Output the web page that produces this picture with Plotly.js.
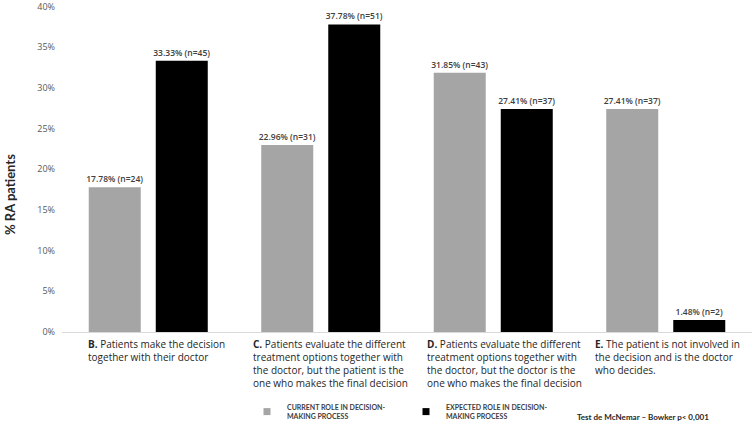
<!DOCTYPE html>
<html>
<head>
<meta charset="utf-8">
<script src="https://cdn.plot.ly/plotly-3.0.1.min.js"></script>
<style>
  html, body { margin: 0; padding: 0; background: #fff; }
  #chart { width: 755px; height: 423px; }
</style>
</head>
<body>
<div id="chart"></div>
<script>
const categories = ["B", "C", "D", "E"];
const categoryLabels = [
  "<b>B.</b> Patients make the decision<br>together with their doctor",
  "<b>C.</b> Patients evaluate the different<br>treatment options together with<br>the doctor, but the patient is the<br>one who makes the final decision",
  "<b>D.</b> Patients evaluate the different<br>treatment options together with<br>the doctor, but the doctor is the<br>one who makes the final decision",
  "<b>E.</b> The patient is not involved in<br>the decision and is the doctor<br>who decides."
];
const currentPct = [17.78, 22.96, 31.85, 27.41];
const currentN = [24, 31, 43, 37];
const expectedPct = [33.33, 37.78, 27.41, 1.48];
const expectedN = [45, 51, 37, 2];
const yTicks = [0, 5, 10, 15, 20, 25, 30, 35, 40];
const yTickText = ["0%", "5%", "10%", "15%", "20%", "25%", "30%", "35%", "40%"];
const seriesNames = [
  "CURRENT ROLE IN DECISION-<br>MAKING PROCESS",
  "EXPECTED ROLE IN DECISION-<br>MAKING PROCESS"
];
const seriesColors = ["#a5a5a5", "#000000"];
const testNote = "Test de McNemar – Bowker p< 0,001";

const font = "'Open Sans', sans-serif";
const narrow = "Lato, sans-serif";
const labelShift = [-62, -70, -68, -73];

function barTrace(name, y, n, color) {
  return {
    type: "bar",
    name: name,
    x: categories,
    y: y,
    customdata: n,
    marker: { color: color },
    texttemplate: "%{y:.2f}% (n=%{customdata})",
    textposition: "outside",
    constraintext: "none",
    textfont: { family: font, size: 8.5, weight: 600, color: "#404040" },
    cliponaxis: false,
    showlegend: false,
    hoverinfo: "skip"
  };
}

// legend keys drawn as small squares, like the original
function legendKey(name, color) {
  return {
    type: "scatter",
    mode: "markers",
    name: name,
    x: [null],
    y: [null],
    marker: { symbol: "square", size: 7, color: color },
    hoverinfo: "skip"
  };
}

const data = [
  barTrace(seriesNames[0], currentPct, currentN, seriesColors[0]),
  barTrace(seriesNames[1], expectedPct, expectedN, seriesColors[1]),
  legendKey(seriesNames[0], seriesColors[0]),
  legendKey(seriesNames[1], seriesColors[1])
];

const annotations = categories.map((c, i) => ({
  x: c, xref: "x", y: 0, yref: "y",
  text: categoryLabels[i],
  showarrow: false,
  xanchor: "left", yanchor: "top", align: "left",
  xshift: labelShift[i], yshift: -3,
  font: { family: font, size: 10, color: "#262626" }
}));

annotations.push({
  x: (10 - 62) / 690, xref: "paper", y: 1 - (195 - 6) / 326, yref: "paper",
  text: "<b>% RA patients</b>",
  showarrow: false, textangle: -90,
  xanchor: "center", yanchor: "middle",
  font: { family: narrow, size: 13, color: "#262626" }
});

annotations.push({
  x: (575 - 62) / 690, xref: "paper", y: -(417 - 332) / 326, yref: "paper",
  text: "<b>" + testNote + "</b>",
  showarrow: false, xanchor: "left", yanchor: "middle",
  font: { family: narrow, size: 8, color: "#262626" }
});

const layout = {
  width: 755,
  height: 423,
  paper_bgcolor: "#ffffff",
  plot_bgcolor: "#ffffff",
  font: { family: font, color: "#404040" },
  margin: { t: 6, r: 3, b: 91, l: 62 },
  barmode: "group",
  bargap: 0.223,
  bargroupgap: 0.224,
  xaxis: {
    showticklabels: false,
    ticks: "",
    showgrid: false,
    showline: true,
    linecolor: "#d9d9d9",
    linewidth: 1,
    zeroline: false
  },
  yaxis: {
    range: [0, 40.05],
    tickvals: yTicks,
    ticktext: yTickText,
    showgrid: false,
    zeroline: false,
    showline: false,
    ticks: "",
    ticklabelstandoff: 6,
    ticklabeloverflow: "allow",
    tickfont: { family: font, size: 9, color: "#595959" }
  },
  showlegend: true,
  legend: {
    orientation: "h",
    xref: "container",
    yref: "container",
    x: 247 / 755,
    xanchor: "left",
    y: 1 - 396 / 423,
    yanchor: "top",
    font: { family: narrow, size: 7, weight: 700, color: "#404040" },
    entrywidth: 114,
    entrywidthmode: "pixels",
    itemclick: false,
    itemdoubleclick: false
  },
  annotations: annotations
};

Plotly.newPlot("chart", data, layout, { displayModeBar: false, responsive: false });
</script>
</body>
</html>
